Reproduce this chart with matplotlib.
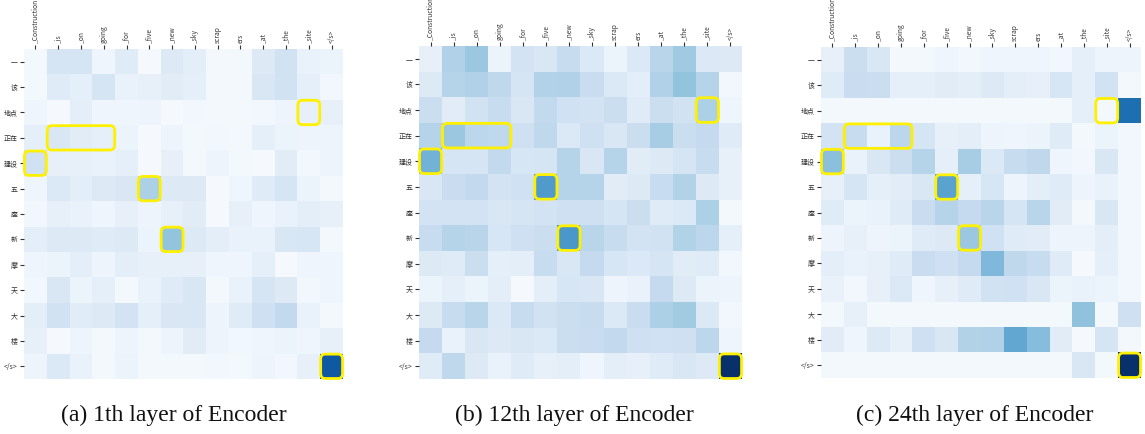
import numpy as np
import matplotlib
matplotlib.use("Agg")
import matplotlib.pyplot as plt
from matplotlib.patches import FancyBboxPatch

plt.rcParams['font.family'] = ['Noto Sans CJK SC', 'DejaVu Sans']

src_tokens = ["_Construction", "_is", "_on", "going", "_for", "_five", "_new",
              "_sky", "scrap", "ers", "_at", "_the", "_site", "</s>"]
tgt_tokens = ["一", "该", "地点", "正在", "建设", "五", "座", "新", "摩", "天", "大", "楼", "</s>"]

layer1 = [
    [0.02, 0.17, 0.17, 0.04, 0.12, 0.01, 0.13, 0.10, 0.02, 0.02, 0.13, 0.19, 0.07, 0.06],
    [0.02, 0.12, 0.09, 0.17, 0.07, 0.08, 0.11, 0.09, 0.02, 0.02, 0.15, 0.19, 0.09, 0.03],
    [0.04, 0.01, 0.10, 0.04, 0.04, 0.05, 0.01, 0.03, 0.02, 0.02, 0.03, 0.05, 0.08, 0.08],
    [0.09, 0.15, 0.11, 0.09, 0.06, 0.01, 0.05, 0.02, 0.03, 0.02, 0.09, 0.06, 0.05, 0.05],
    [0.20, 0.08, 0.08, 0.07, 0.09, 0.01, 0.08, 0.02, 0.05, 0.02, 0.01, 0.11, 0.03, 0.05],
    [0.04, 0.14, 0.10, 0.13, 0.15, 0.33, 0.13, 0.13, 0.01, 0.04, 0.12, 0.17, 0.06, 0.02],
    [0.03, 0.08, 0.07, 0.04, 0.08, 0.05, 0.08, 0.11, 0.01, 0.08, 0.04, 0.07, 0.10, 0.08],
    [0.10, 0.13, 0.13, 0.12, 0.13, 0.06, 0.40, 0.13, 0.10, 0.07, 0.07, 0.15, 0.16, 0.02],
    [0.04, 0.06, 0.10, 0.05, 0.10, 0.08, 0.08, 0.08, 0.04, 0.04, 0.09, 0.01, 0.04, 0.04],
    [0.03, 0.15, 0.06, 0.09, 0.02, 0.07, 0.12, 0.15, 0.02, 0.07, 0.17, 0.13, 0.03, 0.04],
    [0.10, 0.19, 0.11, 0.13, 0.18, 0.09, 0.15, 0.15, 0.05, 0.12, 0.21, 0.26, 0.07, 0.02],
    [0.08, 0.01, 0.05, 0.02, 0.05, 0.02, 0.05, 0.11, 0.05, 0.03, 0.04, 0.06, 0.04, 0.08],
    [0.05, 0.14, 0.07, 0.02, 0.06, 0.02, 0.02, 0.02, 0.03, 0.02, 0.05, 0.03, 0.08, 0.84],
]

layer12 = [
    [0.08, 0.32, 0.38, 0.06, 0.18, 0.15, 0.24, 0.14, 0.06, 0.14, 0.29, 0.37, 0.14, 0.13],
    [0.13, 0.30, 0.32, 0.27, 0.17, 0.31, 0.32, 0.23, 0.14, 0.10, 0.32, 0.40, 0.30, 0.03],
    [0.22, 0.11, 0.19, 0.24, 0.15, 0.26, 0.20, 0.18, 0.22, 0.12, 0.22, 0.19, 0.33, 0.04],
    [0.30, 0.38, 0.28, 0.27, 0.21, 0.27, 0.14, 0.21, 0.15, 0.22, 0.35, 0.22, 0.25, 0.12],
    [0.48, 0.17, 0.17, 0.26, 0.16, 0.17, 0.30, 0.15, 0.30, 0.11, 0.13, 0.17, 0.24, 0.08],
    [0.15, 0.23, 0.26, 0.18, 0.20, 0.58, 0.30, 0.30, 0.11, 0.13, 0.24, 0.31, 0.13, 0.08],
    [0.18, 0.18, 0.18, 0.15, 0.17, 0.18, 0.21, 0.21, 0.17, 0.22, 0.12, 0.14, 0.33, 0.02],
    [0.24, 0.30, 0.29, 0.16, 0.21, 0.22, 0.60, 0.29, 0.24, 0.18, 0.19, 0.31, 0.28, 0.09],
    [0.13, 0.12, 0.22, 0.09, 0.10, 0.24, 0.15, 0.25, 0.16, 0.14, 0.17, 0.11, 0.12, 0.03],
    [0.06, 0.09, 0.06, 0.10, 0.01, 0.10, 0.16, 0.15, 0.05, 0.07, 0.25, 0.13, 0.06, 0.05],
    [0.13, 0.24, 0.29, 0.14, 0.24, 0.19, 0.22, 0.24, 0.14, 0.23, 0.33, 0.36, 0.14, 0.03],
    [0.25, 0.07, 0.15, 0.13, 0.15, 0.14, 0.22, 0.23, 0.26, 0.21, 0.20, 0.21, 0.28, 0.04],
    [0.12, 0.27, 0.13, 0.07, 0.12, 0.08, 0.10, 0.04, 0.10, 0.08, 0.12, 0.15, 0.13, 1.00],
]

layer24 = [
    [0.08, 0.22, 0.15, 0.02, 0.02, 0.04, 0.03, 0.04, 0.04, 0.04, 0.03, 0.09, 0.05, 0.05],
    [0.12, 0.23, 0.22, 0.09, 0.09, 0.11, 0.10, 0.13, 0.10, 0.08, 0.16, 0.09, 0.19, 0.02],
    [0.02, 0.02, 0.02, 0.02, 0.02, 0.02, 0.02, 0.02, 0.02, 0.02, 0.02, 0.09, 0.02, 0.76],
    [0.18, 0.24, 0.07, 0.28, 0.17, 0.08, 0.10, 0.05, 0.04, 0.06, 0.12, 0.02, 0.06, 0.03],
    [0.42, 0.07, 0.15, 0.22, 0.30, 0.09, 0.35, 0.14, 0.24, 0.27, 0.04, 0.03, 0.15, 0.03],
    [0.08, 0.17, 0.09, 0.11, 0.15, 0.55, 0.09, 0.16, 0.05, 0.10, 0.12, 0.05, 0.07, 0.03],
    [0.12, 0.06, 0.07, 0.12, 0.23, 0.30, 0.25, 0.29, 0.17, 0.29, 0.11, 0.02, 0.15, 0.03],
    [0.05, 0.08, 0.05, 0.06, 0.12, 0.13, 0.38, 0.20, 0.12, 0.11, 0.05, 0.05, 0.10, 0.03],
    [0.10, 0.07, 0.08, 0.12, 0.23, 0.21, 0.25, 0.45, 0.27, 0.24, 0.12, 0.01, 0.09, 0.03],
    [0.07, 0.03, 0.08, 0.14, 0.04, 0.08, 0.12, 0.19, 0.20, 0.15, 0.06, 0.07, 0.06, 0.03],
    [0.02, 0.08, 0.02, 0.02, 0.02, 0.02, 0.02, 0.02, 0.02, 0.02, 0.02, 0.41, 0.02, 0.21],
    [0.11, 0.04, 0.13, 0.08, 0.21, 0.15, 0.31, 0.32, 0.53, 0.43, 0.11, 0.01, 0.17, 0.02],
    [0.02, 0.02, 0.02, 0.02, 0.02, 0.02, 0.02, 0.02, 0.02, 0.02, 0.02, 0.15, 0.02, 1.00],
]

# highlighted alignments: (row, first col, last col)
highlights = [(2, 12, 12), (3, 1, 3), (4, 0, 0), (5, 5, 5), (7, 6, 6), (12, 13, 13)]

captions = ["(a) 1th layer of Encoder", "(b) 12th layer of Encoder", "(c) 24th layer of Encoder"]

fig = plt.figure(figsize=(11.45, 4.34), dpi=100)
axes_pos = [
    [24 / 1145, 1 - 379 / 434, 319 / 1145, 330 / 434],
    [419 / 1145, 1 - 379 / 434, 323 / 1145, 333 / 434],
    [821 / 1145, 1 - 378 / 434, 320 / 1145, 331 / 434],
]
caption_x = [174 / 1145, 574 / 1145, 975 / 1145]

for data, pos, cap, cx in zip([layer1, layer12, layer24], axes_pos, captions, caption_x):
    ax = fig.add_axes(pos)
    arr = np.array(data)
    ax.imshow(arr, cmap="Blues", vmin=0, vmax=1, aspect="auto", interpolation="nearest")
    ax.set_xticks(np.arange(len(src_tokens)))
    ax.set_xticklabels(src_tokens, rotation=90, fontsize=4.8, color="#333333")
    ax.set_yticks(np.arange(len(tgt_tokens)))
    ax.set_yticklabels(tgt_tokens, fontsize=5, color="#333333")
    ax.xaxis.tick_top()
    ax.tick_params(axis="both", length=3, width=0.8, pad=1.5, colors="#333333")
    for s in ax.spines.values():
        s.set_visible(False)
    for r, c0, c1 in highlights:
        box = FancyBboxPatch((c0 - 0.5 + 0.02, r - 0.5 + 0.02), (c1 - c0 + 1) - 0.04, 0.96,
                             boxstyle="round,pad=0,rounding_size=0.2",
                             fill=False, edgecolor="#fff000", linewidth=2.0,
                             clip_on=False, zorder=5)
        ax.add_patch(box)
    ax.set_xlim(-0.5, len(src_tokens) - 0.5)
    ax.set_ylim(len(tgt_tokens) - 0.5, -0.5)
    fig.text(cx, 1 - 415 / 434, cap, ha="center", va="center",
             fontsize=17, family="Liberation Serif", color="#111111")

fig.savefig("out.png", dpi=100, facecolor="white")
